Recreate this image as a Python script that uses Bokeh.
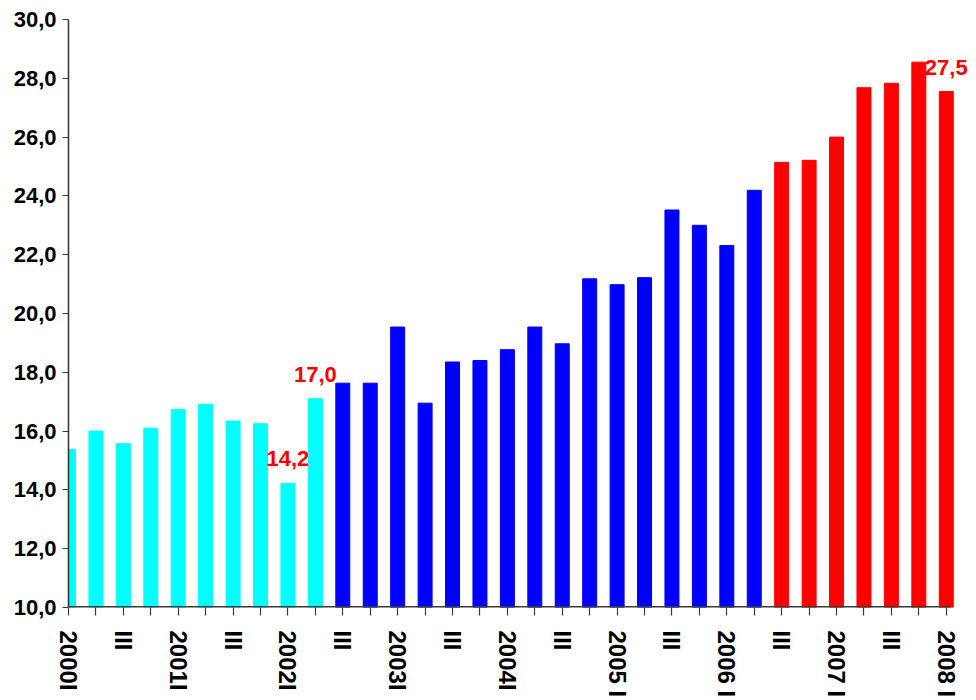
from bokeh.plotting import figure
from bokeh.models import ColumnDataSource, FixedTicker, Range1d, LabelSet
from bokeh.core.properties import value
from bokeh.embed import file_html
from bokeh.resources import INLINE

# ---- data ----
values_cyan = [15.37, 16.0, 15.57, 16.1, 16.73, 16.91, 16.34, 16.25, 14.22, 17.1]
values_blue = [17.63, 17.63, 19.54, 16.95, 18.35, 18.4, 18.77, 19.54, 18.97,
               21.18, 20.98, 21.22, 23.52, 23.0, 22.31, 24.19]
values_red = [25.14, 25.21, 26.0, 27.68, 27.83, 28.55, 27.55]

x_labels = ["2000I", "", "III", "", "2001I", "", "III", "", "2002I", "", "III", "",
            "2003I", "", "III", "", "2004I", "", "III", "", "2005 I", "", "III", "",
            "2006 I", "", "III", "", "2007 I", "", "III", "", "2008 I"]
y_ticks = [10, 12, 14, 16, 18, 20, 22, 24, 26, 28, 30]
y_tick_labels = ["10,0", "12,0", "14,0", "16,0", "18,0", "20,0", "22,0", "24,0", "26,0", "28,0", "30,0"]

annot_index = [8, 9, 32]
annot_text = ["14,2", "17,0", "27,5"]

FONT = "Liberation Sans"

all_values = values_cyan + values_blue + values_red
n = len(all_values)

p = figure(frame_width=903, frame_height=588, output_backend="svg", toolbar_location=None,
           x_range=Range1d(0, 32.92), y_range=Range1d(10, 30),
           min_border_left=68, min_border_top=19, min_border_right=2, min_border_bottom=90)
p.outline_line_color = None
p.xgrid.visible = False
p.ygrid.visible = False
p.background_fill_color = "white"
p.border_fill_color = "white"

start = 0
for vals, col in ((values_cyan, "#00FFFF"), (values_blue, "#0000FF"), (values_red, "#FF0000")):
    xs = list(range(start, start + len(vals)))
    src = ColumnDataSource(dict(x=xs, top=vals))
    p.vbar(x="x", top="top", bottom=10, width=0.51, source=src,
           fill_color=col, line_color=col, line_width=1)
    start += len(vals)

# horizontal axis line, ending just after the last category
p.segment(x0=[0], x1=[n - 1 + 0.15], y0=[10], y1=[10], line_color="#3a3a3a", line_width=3.2)

lab_src = ColumnDataSource(dict(x=annot_index, y=[all_values[i] for i in annot_index], text=annot_text))
labels = LabelSet(x="x", y="y", text="text", source=lab_src, y_offset=17,
                  text_align="center", text_baseline="bottom",
                  text_color="#FF0000", text_font=value(FONT), text_font_size="22px",
                  text_font_style="bold")
p.add_layout(labels)

# x axis
p.xaxis.ticker = FixedTicker(ticks=list(range(n)))
p.xaxis.major_label_overrides = {i: t for i, t in enumerate(x_labels)}
p.xaxis.major_label_orientation = "vertical"
p.xaxis.major_label_text_font = FONT
p.xaxis.major_label_text_font_size = "24px"
p.xaxis.major_label_text_font_style = "bold"
p.xaxis.major_label_text_color = "black"
p.xaxis.major_label_standoff = 15
p.xaxis.major_tick_out = 8
p.xaxis.major_tick_in = 0
p.xaxis.minor_tick_line_color = None
p.xaxis.axis_line_color = None
p.xaxis.major_tick_line_color = "#3a3a3a"
p.xaxis.major_tick_line_width = 1.2

# y axis
p.yaxis.ticker = FixedTicker(ticks=y_ticks)
p.yaxis.major_label_overrides = {t: s for t, s in zip(y_ticks, y_tick_labels)}
p.yaxis.major_label_text_font = FONT
p.yaxis.major_label_text_font_size = "22px"
p.yaxis.major_label_text_font_style = "bold"
p.yaxis.major_label_text_color = "black"
p.yaxis.major_label_standoff = 6
p.yaxis.major_tick_out = 6
p.yaxis.major_tick_in = 0
p.yaxis.minor_tick_line_color = None
p.yaxis.axis_line_color = "#3a3a3a"
p.yaxis.axis_line_width = 1.6
p.yaxis.major_tick_line_color = "#3a3a3a"
p.yaxis.major_tick_line_width = 1.2

open("out.html", "w").write(file_html(p, INLINE))
